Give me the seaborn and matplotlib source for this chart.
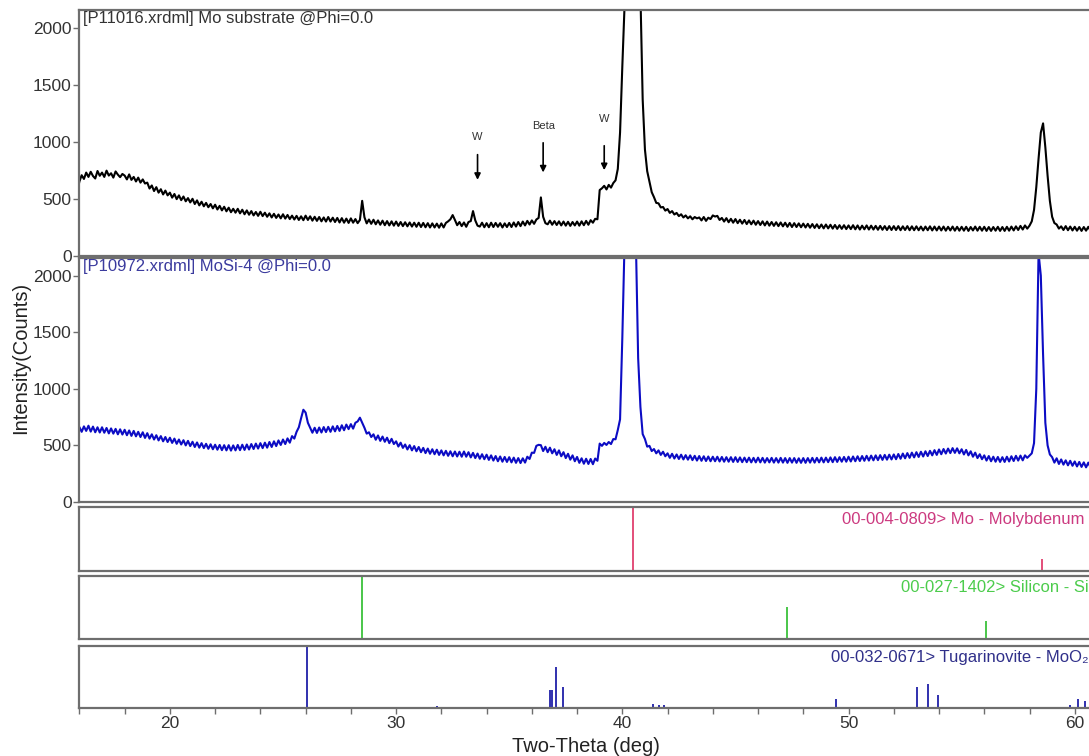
import numpy as np
import pandas as pd
import matplotlib
matplotlib.use('Agg')
import matplotlib.pyplot as plt
import seaborn as sns

sns.set_theme(style='white')
plt.rcParams['font.family'] = ['Liberation Sans', 'DejaVu Sans']
plt.rcParams['axes.unicode_minus'] = False

# scan grid, 0.1 deg steps from 15.9 to 60.9
two_theta = np.round(15.9 + 0.1 * np.arange(451), 1)

# [P11016.xrdml] Mo substrate, one row per degree
mo_substrate = [560,
    650, 705, 672, 728, 690, 735, 698, 676, 742, 700,   # 16
    728, 690, 745, 702, 722, 684, 738, 710, 688, 716,   # 17
    702, 668, 712, 664, 690, 650, 684, 640, 668, 632,   # 18
    640, 588, 615, 566, 600, 552, 582, 536, 570, 528,   # 19
    552, 508, 540, 495, 528, 486, 518, 476, 504, 466,   # 20
    498, 452, 484, 440, 472, 432, 462, 424, 452, 414,   # 21
    446, 404, 436, 396, 428, 388, 420, 380, 410, 376,   # 22
    410, 370, 402, 362, 396, 358, 390, 352, 382, 348,   # 23
    384, 346, 376, 340, 370, 334, 366, 330, 360, 326,   # 24
    362, 324, 356, 320, 350, 316, 348, 312, 344, 310,   # 25
    350, 312, 344, 306, 340, 304, 338, 300, 334, 298,   # 26
    338, 298, 332, 294, 330, 290, 328, 288, 324, 286,   # 27
    326, 288, 320, 284, 312, 480, 336, 282, 316, 278,   # 28
    314, 274, 308, 270, 306, 266, 302, 264, 300, 262,   # 29
    298, 260, 294, 258, 292, 256, 290, 254, 288, 252,   # 30
    288, 250, 286, 248, 284, 246, 282, 246, 280, 244,   # 31
    282, 246, 286, 300, 318, 355, 312, 266, 294, 258,   # 32
    290, 252, 294, 302, 390, 308, 262, 254, 288, 248,   # 33
    284, 248, 288, 250, 286, 252, 284, 246, 282, 250,   # 34
    286, 250, 290, 254, 294, 258, 298, 264, 304, 272,   # 35
    308, 278, 316, 330, 510, 340, 284, 274, 306, 270,   # 36
    302, 268, 300, 264, 298, 262, 296, 260, 294, 264,   # 37
    298, 262, 300, 266, 304, 270, 310, 288, 322, 318,   # 38
    575, 590, 612, 580, 620, 596, 636, 660, 760, 1080,  # 39
    1660, 2200, 2500, 2500, 2500, 2500, 2500, 2500, 2300, 1370,  # 40
    930, 740, 650, 556, 512, 462, 458, 422, 426, 394,   # 41
    408, 374, 390, 360, 374, 346, 362, 334, 352, 326,   # 42
    344, 318, 338, 326, 334, 308, 338, 304, 332, 320,   # 43
    352, 342, 348, 312, 330, 298, 328, 292, 322, 288,   # 44
    320, 284, 314, 280, 312, 276, 308, 274, 306, 270,   # 45
    302, 268, 300, 264, 298, 262, 294, 260, 292, 258,   # 46
    290, 256, 288, 252, 286, 250, 284, 250, 282, 248,   # 47
    280, 246, 278, 244, 276, 242, 274, 240, 272, 238,   # 48
    272, 238, 270, 236, 268, 234, 266, 234, 266, 232,   # 49
    264, 232, 266, 230, 264, 228, 262, 230, 264, 228,   # 50
    262, 228, 260, 226, 260, 226, 258, 224, 258, 224,   # 51
    258, 224, 258, 222, 256, 224, 258, 222, 256, 222,   # 52
    256, 222, 254, 220, 254, 222, 256, 220, 254, 220,   # 53
    254, 220, 254, 218, 252, 220, 254, 218, 252, 218,   # 54
    252, 218, 252, 216, 250, 220, 254, 218, 252, 218,   # 55
    252, 216, 250, 216, 250, 218, 252, 216, 250, 216,   # 56
    252, 218, 254, 220, 256, 224, 260, 228, 264, 236,   # 57
    262, 300, 400, 600, 850, 1080, 1160, 950, 700, 480,  # 58
    340, 285, 272, 236, 256, 224, 258, 222, 254, 220,   # 59
    252, 218, 250, 216, 250, 218, 252, 216, 248, 214,   # 60
]

# [P10972.xrdml] MoSi-4
mosi_4 = [610,
    662, 620, 668, 628, 674, 622, 666, 616, 660, 614,   # 16
    660, 612, 654, 606, 650, 604, 646, 598, 642, 596,   # 17
    638, 590, 632, 584, 628, 580, 620, 574, 616, 566,   # 18
    608, 560, 598, 552, 590, 544, 582, 536, 574, 530,   # 19
    568, 522, 560, 514, 552, 508, 546, 500, 540, 494,   # 20
    532, 486, 526, 480, 520, 476, 514, 470, 510, 466,   # 21
    506, 462, 504, 458, 502, 456, 502, 454, 500, 456,   # 22
    504, 458, 506, 460, 508, 464, 512, 468, 516, 472,   # 23
    520, 476, 524, 480, 530, 486, 536, 494, 544, 504,   # 24
    552, 512, 562, 524, 582, 560, 620, 660, 740, 815,   # 25
    790, 700, 656, 612, 656, 610, 658, 614, 662, 618,   # 26
    664, 620, 668, 624, 672, 628, 678, 634, 684, 644,   # 27
    688, 648, 700, 712, 745, 700, 656, 604, 616, 574,   # 28
    598, 550, 588, 540, 578, 532, 568, 520, 558, 512,   # 29
    536, 490, 524, 478, 508, 464, 502, 456, 494, 448,   # 30
    486, 440, 478, 432, 472, 426, 466, 422, 462, 416,   # 31
    456, 412, 452, 408, 448, 404, 446, 402, 444, 400,   # 32
    446, 400, 440, 394, 434, 388, 428, 382, 422, 378,   # 33
    418, 372, 412, 366, 406, 360, 402, 356, 398, 354,   # 34
    396, 350, 392, 346, 388, 344, 386, 348, 400, 380,   # 35
    436, 434, 496, 505, 502, 450, 488, 440, 480, 430,   # 36
    466, 416, 456, 404, 440, 388, 426, 374, 412, 360,   # 37
    398, 346, 386, 338, 382, 336, 380, 334, 384, 364,   # 38
    516, 496, 522, 504, 530, 512, 556, 554, 636, 730,   # 39
    1450, 2300, 2500, 2500, 2500, 2500, 2300, 1270, 840, 600,  # 40
    556, 489, 496, 450, 468, 430, 456, 416, 444, 404,   # 41
    430, 390, 426, 384, 420, 380, 418, 376, 414, 374,   # 42
    412, 370, 408, 366, 406, 364, 404, 362, 402, 360,   # 43
    400, 360, 400, 358, 398, 356, 396, 356, 396, 354,   # 44
    396, 354, 394, 352, 392, 352, 392, 350, 390, 350,   # 45
    392, 350, 390, 348, 388, 350, 390, 348, 388, 348,   # 46
    390, 348, 388, 346, 388, 348, 388, 346, 386, 346,   # 47
    388, 346, 388, 348, 390, 348, 390, 350, 392, 350,   # 48
    392, 352, 394, 352, 396, 354, 396, 356, 398, 356,   # 49
    400, 358, 402, 360, 404, 362, 406, 364, 408, 366,   # 50
    410, 368, 412, 370, 414, 372, 416, 374, 418, 376,   # 51
    420, 378, 424, 382, 428, 386, 432, 390, 436, 394,   # 52
    440, 398, 444, 402, 448, 406, 452, 412, 458, 416,   # 53
    464, 422, 468, 428, 472, 432, 476, 434, 474, 430,   # 54
    466, 420, 460, 412, 448, 400, 436, 388, 422, 378,   # 55
    412, 366, 406, 360, 400, 356, 398, 354, 396, 354,   # 56
    400, 358, 404, 362, 408, 366, 410, 368, 412, 390,   # 57
    410, 430, 520, 1000, 2200, 2000, 1300, 700, 500, 420,  # 58
    396, 348, 386, 336, 376, 330, 368, 324, 364, 320,   # 59
    358, 314, 354, 310, 350, 306, 348, 304, 344, 302,   # 60
]

# reference patterns (position, relative intensity)
mo_ref_pos = [40.49, 58.54]
mo_ref_int = [100, 18]
si_ref_pos = [28.48, 47.28, 56.07]
si_ref_int = [100, 52, 29]
moo2_ref_pos = [18.5, 26.05, 31.8, 36.80, 36.87, 37.08, 37.39, 41.37, 41.6, 41.85,
                49.45, 53.02, 53.50, 53.95, 59.8, 60.15, 60.45]
moo2_ref_int = [2, 100, 4, 30, 30, 67, 34, 7, 5, 5,
                14, 35, 40, 22, 5, 15, 11]

# arrows on the substrate pattern: label, position, text y, tail y, head y
marks = ['W', 'Beta', 'W']
mark_pos = [33.6, 36.5, 39.2]
mark_text_y = [1040, 1138, 1200]
mark_tail_y = [910, 1014, 988]
mark_head_y = [640, 705, 725]

df = pd.DataFrame({'two_theta': two_theta, 'mo_sub': mo_substrate, 'mosi4': mosi_4})

W, H = 1089, 756
x_lo, x_hi = 15.96, 60.63
frame_col = '#6e6e6e'
text_col = '#333333'


def ax_at(top_px, bot_px):
    left = 78.5 / W
    return fig.add_axes([left, 1 - bot_px / H, 1 - left, (bot_px - top_px) / H])


def frame(ax):
    for s in ['left', 'top', 'bottom']:
        ax.spines[s].set_color(frame_col)
        ax.spines[s].set_linewidth(1.6)
    ax.spines['right'].set_visible(False)
    ax.set_xlim(x_lo, x_hi)
    ax.set_xlabel('')
    ax.set_ylabel('')


fig = plt.figure(figsize=(W / 100, H / 100), dpi=100)

ax1 = ax_at(9.5, 255.5)
ax2 = ax_at(257.5, 502)
ax3 = ax_at(507, 570.5)
ax4 = ax_at(576, 638.5)
ax5 = ax_at(646, 708)

sns.lineplot(data=df, x='two_theta', y='mo_sub', ax=ax1, color='black', lw=1.5,
             estimator=None, sort=False)
sns.lineplot(data=df, x='two_theta', y='mosi4', ax=ax2, color='#0c0cc4', lw=1.5,
             estimator=None, sort=False)

for ax in (ax1, ax2):
    frame(ax)
    ax.set_ylim(0, 2160)
    ax.set_yticks([0, 500, 1000, 1500, 2000])
    ax.set_xticks([])
    ax.tick_params(axis='y', direction='out', length=4, width=1, color=frame_col,
                   labelsize=12.5, labelcolor=text_col, pad=1, left=True)

ax1.text(0.004, 0.995, '[P11016.xrdml] Mo substrate @Phi=0.0', transform=ax1.transAxes,
         ha='left', va='top', fontsize=12, color=text_col)
ax2.text(0.004, 0.995, '[P10972.xrdml] MoSi-4 @Phi=0.0', transform=ax2.transAxes,
         ha='left', va='top', fontsize=12, color='#3b3b9e')

for lab, xp, ty, y0, y1 in zip(marks, mark_pos, mark_text_y, mark_tail_y, mark_head_y):
    ax1.text(xp, ty, lab, ha='center', va='center', fontsize=8, color=text_col)
    ax1.annotate('', xy=(xp, y1), xytext=(xp, y0),
                 arrowprops=dict(arrowstyle='-|>', color='black', lw=1.2, mutation_scale=9))

refs = [
    (ax3, mo_ref_pos, mo_ref_int, '#e0406e', '#cc3a80', '00-004-0809> Mo - Molybdenum', 0.996, 0.80),
    (ax4, si_ref_pos, si_ref_int, '#3cc23c', '#4ccc4c', '00-027-1402> Silicon - Si', 1.0, 0.81),
    (ax5, moo2_ref_pos, moo2_ref_int, '#2020a8', '#30308a', '00-032-0671> Tugarinovite - MoO\u2082', 1.0, 0.82),
]
for ax, pos, inten, lc, tc, name, tx, ty in refs:
    ax.vlines(pos, 0, inten, color=lc, lw=1.3)
    frame(ax)
    ax.set_ylim(0, 102)
    ax.set_yticks([])
    ax.text(tx, ty, name, transform=ax.transAxes, ha='right', va='center',
            fontsize=12, color=tc)

for ax in (ax3, ax4):
    ax.set_xticks([])

ax5.set_xticks([20, 30, 40, 50, 60])
ax5.set_xticks(np.arange(16, 61, 2), minor=True)
ax5.tick_params(axis='x', which='both', direction='out', length=4, width=1,
                color=frame_col, bottom=True, labelsize=12.5, labelcolor=text_col, pad=2)

fig.text(21 / W, 1 - 358 / H, 'Intensity(Counts)', rotation=90, ha='center', va='center',
         fontsize=14.5, color='#222222')
fig.text(586 / W, 1 - 746 / H, 'Two-Theta (deg)', ha='center', va='center',
         fontsize=14.5, color='#222222')

fig.savefig('out.png', dpi=100)
